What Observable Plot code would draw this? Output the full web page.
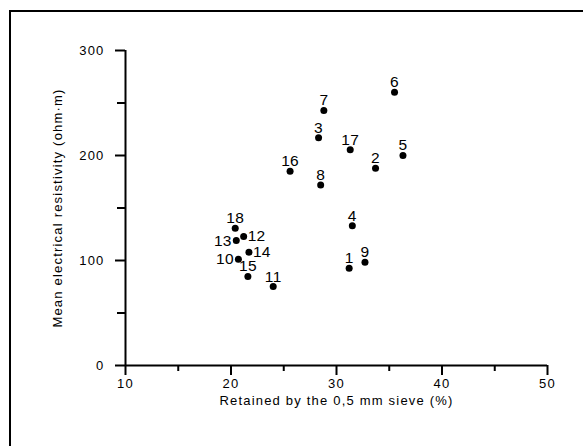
<!DOCTYPE html>
<html>
<head>
<meta charset="utf-8">
<script src="https://cdn.jsdelivr.net/npm/d3@7"></script>
<script src="https://cdn.jsdelivr.net/npm/@observablehq/plot@0.6"></script>
<style>
  html, body { margin: 0; padding: 0; background: #fff; }
  #wrap { position: relative; width: 583px; height: 446px; overflow: hidden; }
  #frame { position: absolute; left: 9px; top: 10px; width: 600px; height: 460px;
           border-top: 2px solid #000; border-left: 2px solid #000; box-sizing: border-box; }
  #chart { position: absolute; left: 0; top: 0; }
  #chart text { letter-spacing: 1.2px; }
  #chart g.pt text { letter-spacing: 0.3px; }
</style>
</head>
<body>
<div id="wrap"><div id="frame"></div><div id="chart"></div></div>
<script>
const ids       = ["1","2","3","4","5","6","7","8","9","10","11","12","13","14","15","16","17","18"];
const retained  = [31.2, 33.7, 28.3, 31.5, 36.3, 35.5, 28.8, 28.5, 32.7, 20.7, 24.0, 21.2, 20.5, 21.7, 21.6, 25.6, 31.3, 20.4];
const resist    = [92.7, 187.9, 216.8, 133, 200, 260.3, 242.9, 172, 98.4, 101.2, 75.2, 122.9, 119, 107.9, 84.8, 185, 205.4, 130.8];
const labelPos  = ["top","top","top","top","top","top","top","top","top","left","top","right","left","right","top","top","top","top"];
const xMajor = [10, 20, 30, 40, 50];
const xMinor = [15, 25, 35, 45];
const yMajor = [0, 100, 200, 300];
const yMinor = [50, 150, 250];
const xTitle = "Retained by the 0,5 mm sieve (%)";
const yTitle = "Mean electrical resistivity (ohm·m)";

const data = ids.map((id, i) => ({id, x: retained[i], y: resist[i], pos: labelPos[i]}));
const font = "Liberation Sans, Arial, sans-serif";

const chart = Plot.plot({
  width: 583,
  height: 446,
  marginLeft: 125,
  marginRight: 36,
  marginTop: 50,
  marginBottom: 81,
  style: {fontFamily: font, fontSize: "13px", color: "#000", background: "transparent"},
  x: {domain: [10, 50], axis: null},
  y: {domain: [0, 300], axis: null},
  marks: [
    Plot.axisX({ticks: xMajor, tickSize: 10, tickPadding: 3, strokeWidth: 2, label: null, fontSize: 13, tickFormat: d => d}),
    Plot.axisX({ticks: xMinor, tickSize: 6, strokeWidth: 2, label: null, text: null}),
    Plot.axisY({ticks: yMajor, tickSize: 10, tickPadding: 11, strokeWidth: 2, label: null, fontSize: 13, tickFormat: d => d}),
    Plot.axisY({ticks: yMinor, tickSize: 8, strokeWidth: 2, label: null, text: null}),
    Plot.ruleY([0], {strokeWidth: 2}),
    Plot.ruleX([10], {strokeWidth: 2}),
    Plot.dot(data, {x: "x", y: "y", r: 3.5, fill: "#000", stroke: "none"}),
    Plot.text(data.filter(d => d.pos === "top"), {x: "x", y: "y", text: "id", dy: -10, fontSize: 15.5, fill: "#000", className: "pt"}),
    Plot.text(data.filter(d => d.pos === "left"), {x: "x", y: "y", text: "id", dx: -4.5, textAnchor: "end", fontSize: 15.5, fill: "#000", className: "pt"}),
    Plot.text(data.filter(d => d.pos === "right"), {x: "x", y: "y", text: "id", dx: 4, textAnchor: "start", fontSize: 15.5, fill: "#000", className: "pt"}),
    Plot.text([xTitle], {frameAnchor: "bottom", dy: 39, fontSize: 13, fill: "#000"}),
    Plot.text([yTitle], {frameAnchor: "left", textAnchor: "middle", rotate: -90, dx: -68, fontSize: 13, fill: "#000"})
  ]
});
document.getElementById("chart").appendChild(chart);
</script>
</body>
</html>
